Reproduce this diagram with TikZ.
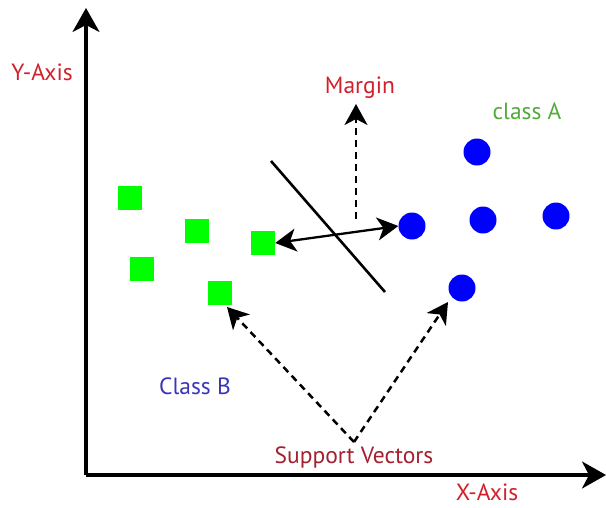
\documentclass[tikz,border=0pt]{standalone}
\usepackage{fontspec}
\setmainfont{PT Sans}
\usetikzlibrary{arrows.meta}
\definecolor{axred}{HTML}{D0202A}
\definecolor{svred}{HTML}{A32030}
\definecolor{clsA}{HTML}{52AA3A}
\definecolor{clsB}{HTML}{3A34B8}
\definecolor{sqgreen}{HTML}{00FF00}
\definecolor{dotblue}{HTML}{0000FF}
\tikzset{
  lbl/.style={font=\fontsize{23.5}{26}\selectfont, inner sep=0pt},
  sq/.style={fill=sqgreen, minimum size=24pt, inner sep=0pt, draw=none},
  dot/.style={circle, fill=dotblue, minimum size=27pt, inner sep=0pt, draw=none},
  bigtip/.style={-{Stealth[length=24pt,width=27pt,inset=7pt]}},
  dsh/.style={line width=2.5pt, dash pattern=on 7pt off 5pt},
}
\begin{document}
\begin{tikzpicture}[x=1pt,y=-1pt]
\useasboundingbox (0,0) rectangle (606,507);
% axes
\coordinate (O) at (86,475);
\coordinate (ytip) at (86,8);
\coordinate (xtip) at (606,475);
\draw[line width=3.2pt, bigtip] (O) -- (ytip);
\draw[line width=3.2pt, bigtip] (O) -- (xtip);
% labels
\node[lbl, text=axred] (ylab) at (42,72) {Y-Axis};
\node[lbl, text=axred, text depth=0pt, anchor=base] (xlab) at (487,500) {X-Axis};
\node[lbl, text=axred] (mlab) at (360,88) {Margin};
\node[lbl, text=clsA] (alab) at (527,111) {class A};
\node[lbl, text=clsB] (blab) at (195,386) {Class B};
\node[lbl, text=svred] (svlab) at (354,457) {Support Vectors};
% class B squares
\node[sq] (b1) at (130,198) {};
\node[sq] (b2) at (197,231) {};
\node[sq] (b3) at (263,243) {};
\node[sq] (b4) at (142,269) {};
\node[sq] (b5) at (220,293) {};
% class A circles
\node[dot] (a1) at (477,152) {};
\node[dot] (a2) at (412,226) {};
\node[dot] (a3) at (483,220) {};
\node[dot] (a4) at (556,216) {};
\node[dot] (a5) at (462,288) {};
% hyperplane
\coordinate (h1) at (271,161);
\coordinate (h2) at (385,292);
\draw[line width=2.6pt] (h1) -- (h2);
% margin arrow
\coordinate (mfoot) at (356,219);
\coordinate (mtop) at (356,104);
\draw[dsh, -{Stealth[length=21pt,width=23pt,inset=6pt]}] (mfoot) -- (mtop);
% double arrow between support vectors
\draw[line width=2.3pt, {Stealth[length=21pt,width=23pt,inset=6pt]}-{Stealth[length=21pt,width=23pt,inset=6pt]}] (b3.east) -- (a2.west);
% support vector arrows
\coordinate (sv) at (354,442);
\draw[dsh, -{Stealth[length=21pt,width=23pt,inset=6pt]}] (sv) -- (227,307);
\draw[dsh, -{Stealth[length=21pt,width=23pt,inset=6pt]}] (sv) -- (448,302);
\end{tikzpicture}
\end{document}
